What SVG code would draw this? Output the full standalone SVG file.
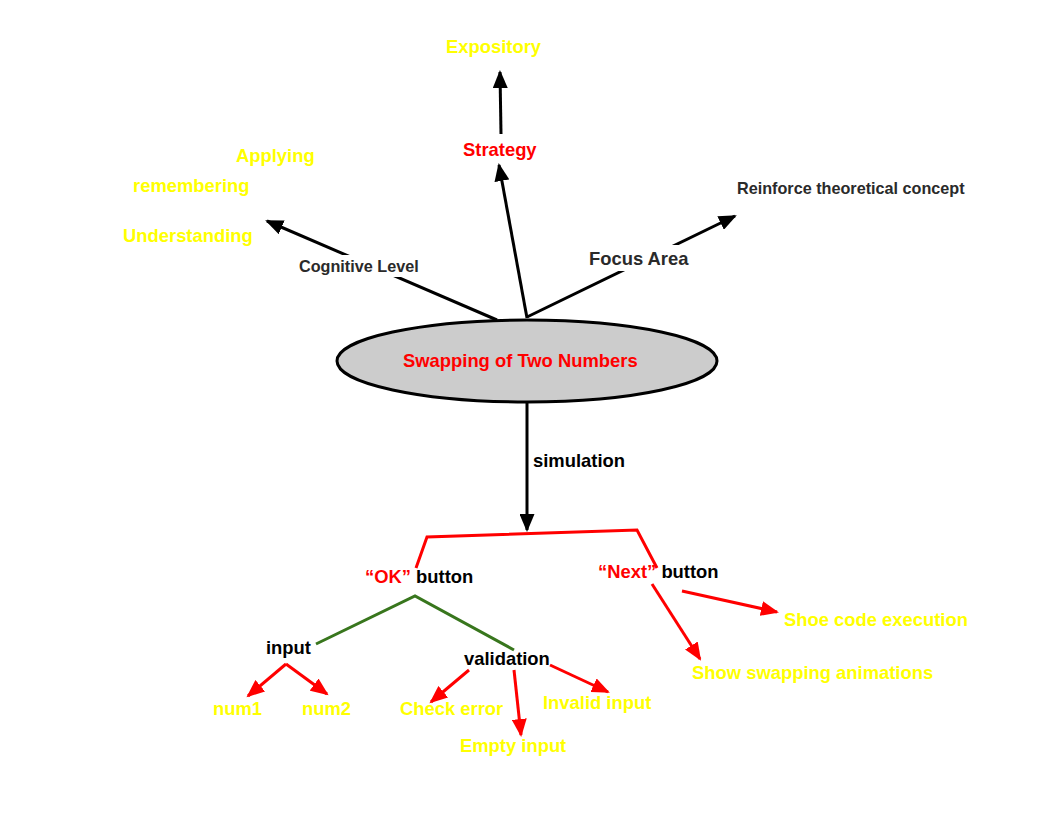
<svg xmlns="http://www.w3.org/2000/svg" width="1045" height="826" viewBox="0 0 1045 826">
<style>
text{font-family:"Liberation Sans",Arial,sans-serif;font-weight:bold;font-size:18.4px}
.y{fill:#ffff00}.r{fill:#ff0000}.k{fill:#000}.d{fill:#2a2a2a}
.s16{font-size:16.2px}
.bl{stroke:#000;stroke-width:3;fill:none}
.rd{stroke:#ff0000;stroke-width:3;fill:none}
.gr{stroke:#38761d;stroke-width:3;fill:none}
</style>
<defs>
<marker id="ab" markerUnits="userSpaceOnUse" markerWidth="19" markerHeight="15" refX="16" refY="7.5" orient="auto"><path d="M0,0 L18,7.5 L0,15 z" fill="#000"/></marker>
<marker id="ar" markerUnits="userSpaceOnUse" markerWidth="19" markerHeight="15" refX="16" refY="7.5" orient="auto"><path d="M0,0 L18,7.5 L0,15 z" fill="#ff0000"/></marker>
</defs>
<rect width="1045" height="826" fill="#fff"/>
<g id="connectors">
<line class="bl" x1="497" y1="320" x2="267" y2="221" marker-end="url(#ab)"/>
<line class="bl" x1="527" y1="318" x2="499" y2="165" marker-end="url(#ab)"/>
<line class="bl" x1="501" y1="134" x2="500" y2="72" marker-end="url(#ab)"/>
<line class="bl" x1="527" y1="317" x2="735" y2="216" marker-end="url(#ab)"/>
<line class="bl" x1="527" y1="402" x2="527" y2="530" marker-end="url(#ab)"/>
<polyline class="rd" points="416,568 427,537 637,530 657,568"/>
<polyline class="gr" points="316,644 415,596 514,650"/>
<line class="rd" x1="286" y1="664" x2="248" y2="696" marker-end="url(#ar)"/>
<line class="rd" x1="286" y1="664" x2="327" y2="694" marker-end="url(#ar)"/>
<line class="rd" x1="469" y1="670" x2="431" y2="702" marker-end="url(#ar)"/>
<line class="rd" x1="514" y1="670" x2="521" y2="735" marker-end="url(#ar)"/>
<line class="rd" x1="550" y1="665" x2="608" y2="692" marker-end="url(#ar)"/>
<line class="rd" x1="652" y1="584" x2="700" y2="659" marker-end="url(#ar)"/>
<line class="rd" x1="682" y1="591" x2="777" y2="612" marker-end="url(#ar)"/>
<rect x="295" y="255" width="125" height="22" fill="#fff"/>
<rect x="586" y="245" width="107" height="26" fill="#fff"/>
<text class="d s16" x="299" y="272">Cognitive Level</text>
<text class="d" x="589" y="265">Focus Area</text>
<text class="k" x="533" y="467">simulation</text>
</g>
<g id="center"><ellipse cx="527" cy="361" rx="190" ry="41" fill="#cccccc" stroke="#000" stroke-width="3"/><text class="r" x="403" y="367">Swapping of Two Numbers</text></g>
<g id="strategy"><text class="r" x="463" y="156">Strategy</text></g>
<g id="expository"><text class="y" x="446" y="53">Expository</text></g>
<g id="applying"><text class="y" x="236" y="162">Applying</text></g>
<g id="remembering"><text class="y" x="133" y="192">remembering</text></g>
<g id="understanding"><text class="y" x="123" y="242">Understanding</text></g>
<g id="reinforce"><text class="d s16" x="737" y="194">Reinforce theoretical concept</text></g>
<g id="ok"><text x="365" y="583"><tspan class="r">“OK”</tspan><tspan class="k"> button</tspan></text></g>
<g id="next"><text x="598" y="578"><tspan class="r">“Next”</tspan><tspan class="k"> button</tspan></text></g>
<g id="input"><text class="k" x="266" y="654">input</text></g>
<g id="validation"><text class="k" x="464" y="665">validation</text></g>
<g id="num1"><text class="y" x="213" y="715">num1</text></g>
<g id="num2"><text class="y" x="302" y="715">num2</text></g>
<g id="checkerror"><text class="y" x="400" y="715">Check error</text></g>
<g id="emptyinput"><text class="y" x="460" y="752">Empty input</text></g>
<g id="invalidinput"><text class="y" x="543" y="709">Invalid input</text></g>
<g id="shoecode"><text class="y" x="784" y="626">Shoe code execution</text></g>
<g id="showswap"><text class="y" x="692" y="679">Show swapping animations</text></g>
</svg>
